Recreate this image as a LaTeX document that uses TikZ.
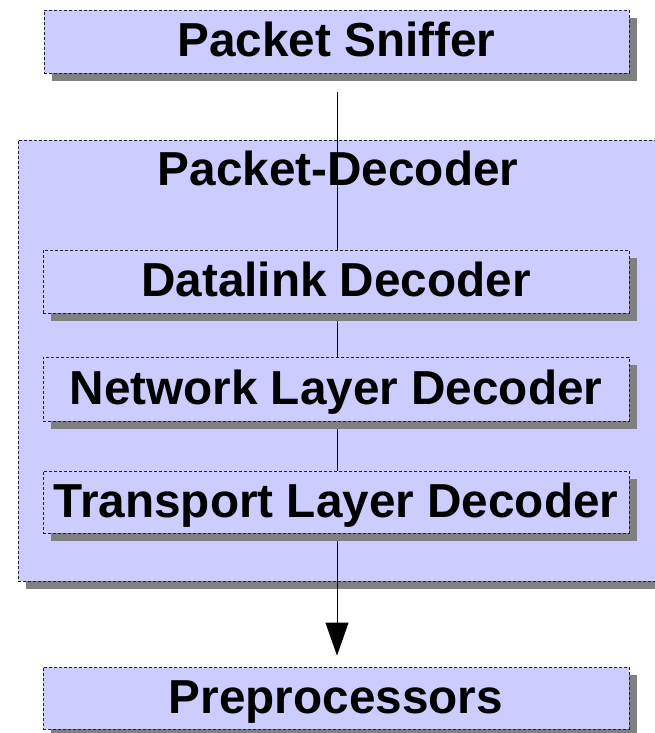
\documentclass[tikz,border=0pt]{standalone}
\usepackage{fontspec}
\setmainfont{Liberation Sans}
\usetikzlibrary{arrows.meta,shadows}
\definecolor{boxfill}{HTML}{CCCCFF}
\definecolor{shadowgray}{HTML}{808080}
\definecolor{edgegray}{HTML}{222222}
\tikzset{
  labeltext/.style={
    font=\fontsize{47.7}{57}\selectfont\bfseries,
    text height=34.2pt, text depth=3.5pt
  },
  layerbox/.style={
    labeltext,
    draw=edgegray, line width=0.9pt, dash pattern=on 3pt off 2pt,
    fill=boxfill, inner sep=0pt,
    general shadow={fill=shadowgray, shadow xshift=8pt, shadow yshift=-8pt}
  },
  flow/.style={line width=0.9pt, -{Triangle[length=33pt,width=23pt]}}
}
\begin{document}
\begin{tikzpicture}[x=1pt,y=-1pt]
  \useasboundingbox (0,0) rectangle (655,733);
  \clip (0,0) rectangle (655,733);

  % top and bottom stages
  \node[layerbox, minimum width=585pt, minimum height=63pt] (sniffer) at (336.5,41.5) {Packet Sniffer};
  \node[layerbox, minimum width=586pt, minimum height=62pt] (preproc) at (336,698) {Preprocessors};

  % decoder container with its title
  \node[layerbox, minimum width=644pt, minimum height=441pt] (decoder) at (340,360.5) {};
  \node[labeltext, inner sep=0pt] (decodertitle) at (338,170) {Packet-Decoder};

  % packet flow through the stack
  \draw[flow, shorten <=19pt, shorten >=11pt] (sniffer.south -| 337,0) -- (preproc.north -| 337,0);

  % decoder layers
  \node[layerbox, minimum width=586pt, minimum height=63pt] (datalink) at (336,281.5) {Datalink Decoder};
  \node[layerbox, minimum width=586pt, minimum height=64pt] (network) at (336,389) {Network Layer Decoder};
  \node[layerbox, minimum width=586pt, minimum height=62pt] (transport) at (336,502) {Transport Layer Decoder};
\end{tikzpicture}
\end{document}
